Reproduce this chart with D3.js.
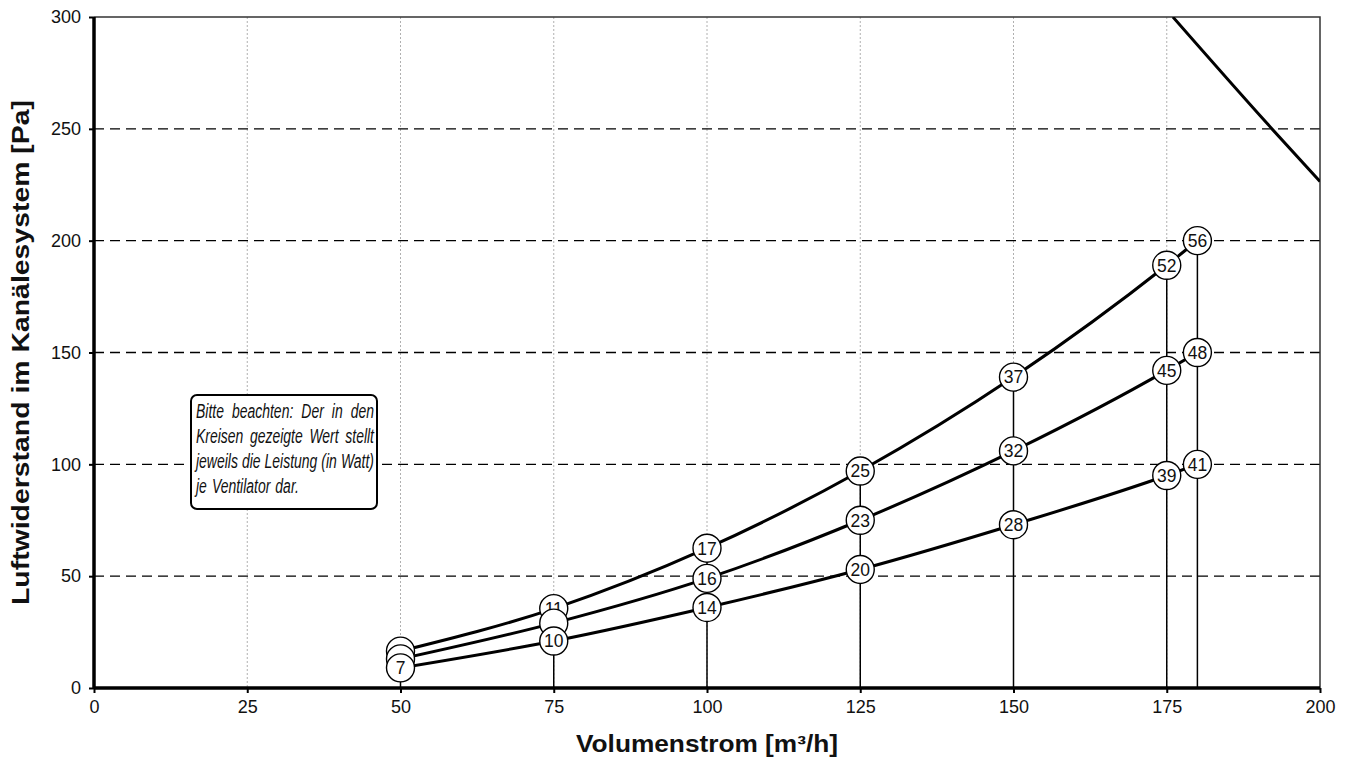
<!DOCTYPE html>
<html>
<head>
<meta charset="utf-8">
<script src="https://cdn.jsdelivr.net/npm/d3@7"></script>
<style>
  body { margin: 0; background: #fff; }
  text { font-family: "Liberation Sans", Arial, sans-serif; }
</style>
</head>
<body>
<svg id="chart" width="1352" height="763"></svg>
<script>
// Volumenstrom [m3/h] an den Messpunkten
var flow = [50, 75, 100, 125, 150, 175, 180];

// Luftwiderstand [Pa] je Kennlinie
var pressHigh = [16.5, 35.5, 62.5, 97, 139, 189, 200];
var pressMid  = [13, 29, 49, 75, 106, 142, 150];
var pressLow  = [9, 21, 36, 53, 73, 95, 100];

// Leistung in Watt (Text in den Kreisen)
var wattHigh = ["", "11", "17", "25", "37", "52", "56"];
var wattMid  = ["", "", "16", "23", "32", "45", "48"];
var wattLow  = ["7", "10", "14", "20", "28", "39", "41"];

// Ventilatorkennlinie (oben rechts)
var fanFlow  = [176, 191.5, 200];
var fanPress = [300, 252, 226.5];

var xTicks = [0, 25, 50, 75, 100, 125, 150, 175, 200];
var yTicks = [0, 50, 100, 150, 200, 250, 300];

var noteLines = [
  "Bitte beachten: Der in den",
  "Kreisen gezeigte Wert stellt",
  "jeweils die Leistung (in Watt)",
  "je Ventilator dar."
];

var svg = d3.select("#chart");
var pL = 94, pR = 1320, pT = 17, pB = 688;

var x = d3.scaleLinear().domain([0, 200]).range([pL, pR]);
var y = d3.scaleLinear().domain([0, 300]).range([pB, pT]);

svg.append("clipPath").attr("id", "plotclip")
  .append("rect")
  .attr("x", pL).attr("y", pT)
  .attr("width", pR - pL).attr("height", pB - pT);

// vertikale Gitterlinien (grau gepunktet)
svg.append("g").selectAll("line")
  .data(xTicks.filter(function(d) { return d > 0 && d < 200; }))
  .join("line")
  .attr("x1", function(d) { return x(d); })
  .attr("x2", function(d) { return x(d); })
  .attr("y1", pT).attr("y2", pB)
  .attr("stroke", "#b0b0b0")
  .attr("stroke-width", 1)
  .attr("stroke-dasharray", "2,2");

// horizontale Gitterlinien (gestrichelt)
svg.append("g").selectAll("line")
  .data(yTicks.filter(function(d) { return d > 0 && d < 300; }))
  .join("line")
  .attr("x1", pL).attr("x2", pR)
  .attr("y1", function(d) { return y(d); })
  .attr("y2", function(d) { return y(d); })
  .attr("stroke", "#000")
  .attr("stroke-width", 1.3)
  .attr("stroke-dasharray", "10,6");

// Rahmen oben / rechts
svg.append("path")
  .attr("d", "M" + pL + "," + pT + "H" + pR + "V" + pB)
  .attr("fill", "none")
  .attr("stroke", "#333")
  .attr("stroke-width", 1.5);

// Lotlinien von der Achse bis zum obersten Kreis
svg.append("g").selectAll("line")
  .data(flow)
  .join("line")
  .attr("x1", function(d) { return x(d); })
  .attr("x2", function(d) { return x(d); })
  .attr("y1", pB)
  .attr("y2", function(d, i) { return y(pressHigh[i]); })
  .attr("stroke", "#000")
  .attr("stroke-width", 1.5);

// Kennlinien
var curve = d3.line()
  .x(function(d) { return x(d[0]); })
  .y(function(d) { return y(d[1]); })
  .curve(d3.curveMonotoneX);

[pressHigh, pressMid, pressLow].forEach(function(series) {
  svg.append("path")
    .datum(flow.map(function(f, i) { return [f, series[i]]; }))
    .attr("d", curve)
    .attr("fill", "none")
    .attr("stroke", "#000")
    .attr("stroke-width", 3);
});

// Ventilatorkennlinie
svg.append("path")
  .datum(fanFlow.map(function(f, i) { return [f, fanPress[i]]; }))
  .attr("d", curve)
  .attr("clip-path", "url(#plotclip)")
  .attr("fill", "none")
  .attr("stroke", "#000")
  .attr("stroke-width", 3);

// Kreise mit Leistungswerten (oberste Kennlinie zuerst, unterste liegt oben)
[[pressHigh, wattHigh], [pressMid, wattMid], [pressLow, wattLow]].forEach(function(s) {
  var g = svg.append("g").selectAll("g")
    .data(flow.map(function(f, i) { return { f: f, p: s[0][i], w: s[1][i] }; }))
    .join("g")
    .attr("transform", function(d) { return "translate(" + x(d.f) + "," + y(d.p) + ")"; });
  g.append("circle")
    .attr("r", 14)
    .attr("fill", "#fff")
    .attr("stroke", "#000")
    .attr("stroke-width", 1.4);
  g.append("text")
    .attr("text-anchor", "middle")
    .attr("dy", "0.36em")
    .style("font-size", "17.5px")
    .attr("fill", "#111")
    .text(function(d) { return d.w; });
});

// Achsen links / unten
var yAxis = d3.axisLeft(y).tickValues(yTicks).tickSize(5).tickPadding(8);
var gy = svg.append("g").attr("transform", "translate(" + pL + ",0)").call(yAxis);
var xAxis = d3.axisBottom(x).tickValues(xTicks).tickSize(5).tickPadding(7);
var gx = svg.append("g").attr("transform", "translate(0," + pB + ")").call(xAxis);

[gx, gy].forEach(function(g) {
  g.select(".domain").attr("stroke", "#000").attr("stroke-width", 3.5);
  g.selectAll(".tick line").attr("stroke", "#000").attr("stroke-width", 2);
  g.selectAll(".tick text")
    .style("font-size", "18px")
    .style("font-family", "'Liberation Sans', Arial, sans-serif")
    .attr("fill", "#111");
});
gy.select(".domain").attr("d", "M0," + pT + "V" + pB);
gx.select(".domain").attr("d", "M" + pL + ",0H" + pR);

// Achsentitel
svg.append("text")
  .attr("x", (pL + pR) / 2)
  .attr("y", 752)
  .attr("text-anchor", "middle")
  .style("font-size", "23px")
  .attr("font-weight", "bold")
  .attr("fill", "#111")
  .attr("textLength", 262)
  .attr("lengthAdjust", "spacingAndGlyphs")
  .text("Volumenstrom [m³/h]");

svg.append("text")
  .attr("transform", "translate(29," + ((pT + pB) / 2) + ") rotate(-90)")
  .attr("text-anchor", "middle")
  .style("font-size", "23px")
  .attr("font-weight", "bold")
  .attr("fill", "#111")
  .attr("textLength", 505)
  .attr("lengthAdjust", "spacingAndGlyphs")
  .text("Luftwiderstand im Kanälesystem [Pa]");

// Hinweisbox
var boxX = 191, boxY = 395, boxW = 186, boxH = 114;
svg.append("rect")
  .attr("x", boxX).attr("y", boxY)
  .attr("width", boxW).attr("height", boxH)
  .attr("rx", 6)
  .attr("fill", "#fff")
  .attr("stroke", "#000")
  .attr("stroke-width", 2);

// Blocksatz: Wörter einzeln setzen, alle Zeilen gleich gestaucht
var textLeft = boxX + 5, textRight = boxX + boxW - 3;
var avail = textRight - textLeft;
var minGap = 4;
var rows = noteLines.map(function(line, li) {
  var words = line.split(" ");
  var nodes = words.map(function(w) {
    return svg.append("text")
      .style("font-size", "21px")
      .attr("font-style", "italic")
      .attr("fill", "#111")
      .text(w);
  });
  var widths = nodes.map(function(n) { return n.node().getComputedTextLength(); });
  return { nodes: nodes, widths: widths, total: d3.sum(widths), baseY: boxY + 23 + li * 25 };
});
var sx = d3.min(rows, function(r) {
  return Math.min(1, (avail - minGap * (r.nodes.length - 1)) / r.total);
});
rows.forEach(function(r, li) {
  var last = li === rows.length - 1;
  var gap = last ? 5 : (avail - r.total * sx) / (r.nodes.length - 1);
  var cx = textLeft;
  r.nodes.forEach(function(n, i) {
    n.attr("transform", "translate(" + cx + "," + r.baseY + ") scale(" + sx + ",1)");
    cx += r.widths[i] * sx + gap;
  });
});
</script>
</body>
</html>
